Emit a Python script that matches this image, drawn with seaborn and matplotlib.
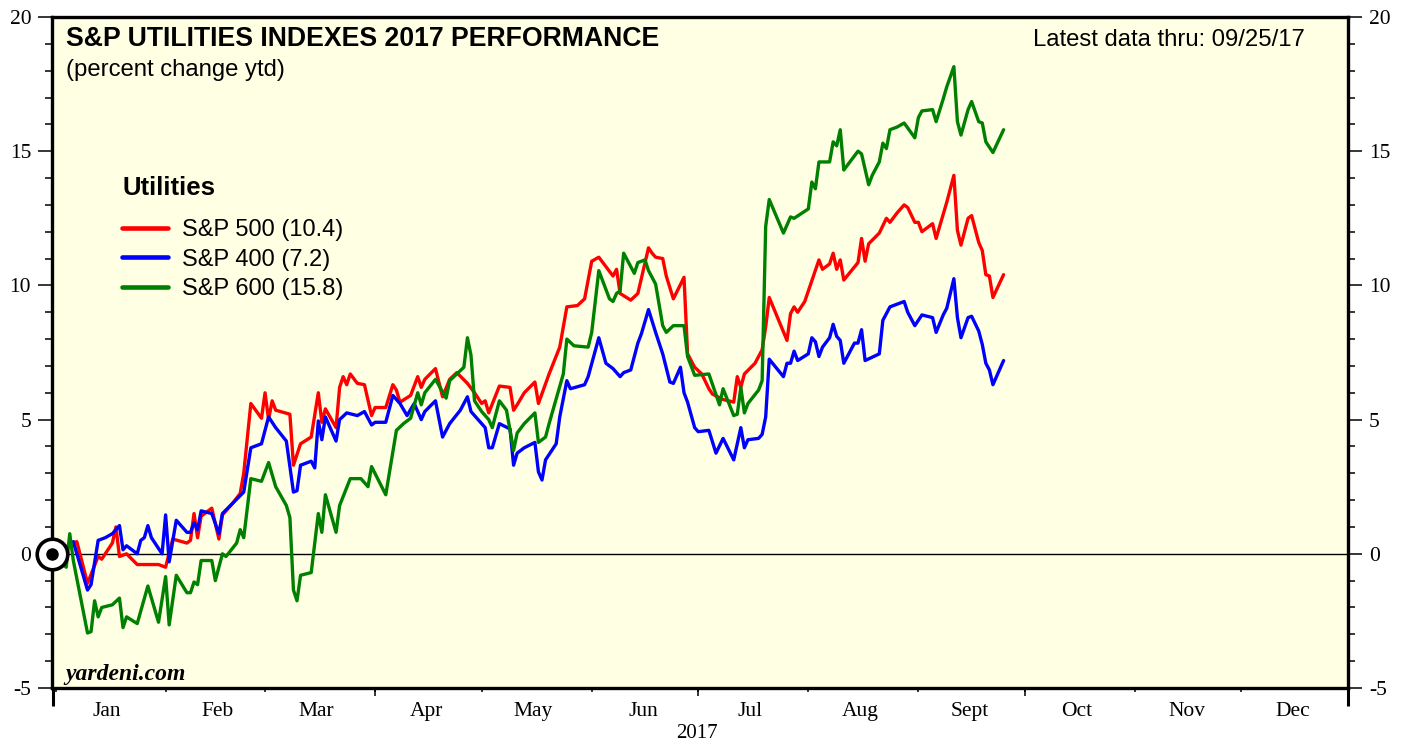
import matplotlib
matplotlib.use("Agg")
import matplotlib.pyplot as plt
import matplotlib.dates as mdates
import pandas as pd
import seaborn as sns

# ---------------- data ----------------
BASE_DATE = "2016-12-31"
YEAR = 2017

sp500_dates = ["01-03", "01-05", "01-07", "01-10", "01-13", "01-14", "01-17", "01-18", "01-19", "01-21",
               "01-24", "01-30", "02-01", "02-03", "02-07", "02-08", "02-09", "02-10", "02-11", "02-14",
               "02-16", "02-17", "02-20", "02-22", "02-23", "02-25", "02-28", "03-01", "03-02", "03-03",
               "03-04", "03-08", "03-09", "03-11", "03-14", "03-16", "03-17", "03-18", "03-21", "03-22",
               "03-23", "03-24", "03-25", "03-27", "03-29", "03-31", "04-01", "04-04", "04-06", "04-07",
               "04-08", "04-11", "04-13", "04-14", "04-15", "04-18", "04-20", "04-22", "04-24", "04-27",
               "04-29", "05-01", "05-02", "05-03", "05-06", "05-09", "05-10", "05-11", "05-13", "05-16",
               "05-17", "05-20", "05-23", "05-25", "05-28", "05-30", "06-01", "06-03", "06-07", "06-08",
               "06-09", "06-12", "06-14", "06-17", "06-18", "06-19", "06-21", "06-22", "06-24", "06-27",
               "06-28", "06-30", "07-02", "07-04", "07-05", "07-08", "07-11", "07-12", "07-13", "07-14",
               "07-17", "07-19", "07-20", "07-21", "07-26", "07-27", "07-28", "07-29", "07-31", "08-04",
               "08-05", "08-07", "08-08", "08-09", "08-10", "08-11", "08-15", "08-16", "08-17", "08-18",
               "08-21", "08-23", "08-24", "08-26", "08-28", "08-29", "08-31", "09-01", "09-02", "09-05",
               "09-06", "09-08", "09-09", "09-11", "09-12", "09-13", "09-15", "09-16", "09-18", "09-19",
               "09-20", "09-21", "09-22", "09-25"]
sp500_values = [-0.1, 0.4, 0.45, -1.1, -0.1, -0.2, 0.4, 1.0, -0.1, 0.0,
                -0.4, -0.4, -0.5, 0.55, 0.4, 0.5, 1.5, 0.6, 1.4, 1.7,
                0.55, 1.45, 1.9, 2.25, 3.0, 5.6, 5.05, 6.0, 5.0, 5.7,
                5.35, 5.2, 3.3, 4.1, 4.35, 6.0, 4.9, 5.4, 4.7, 6.2,
                6.6, 6.3, 6.7, 6.35, 6.3, 5.15, 5.45, 5.45, 6.3, 6.1,
                5.65, 5.9, 6.6, 6.2, 6.5, 6.9, 5.85, 6.5, 6.75, 6.35,
                6.0, 5.6, 5.7, 5.25, 6.25, 6.2, 5.35, 5.55, 6.0, 6.4,
                5.6, 6.7, 7.7, 9.2, 9.25, 9.5, 10.9, 11.05, 10.35, 10.6,
                9.7, 9.45, 9.7, 11.4, 11.2, 11.05, 11.0, 10.35, 9.5, 10.3,
                7.45, 6.95, 6.7, 6.15, 5.95, 5.75, 5.65, 6.6, 6.2, 6.7,
                7.1, 7.6, 8.45, 9.55, 7.95, 8.95, 9.2, 9.0, 9.4, 10.95,
                10.6, 10.8, 11.2, 10.6, 10.95, 10.2, 10.85, 11.75, 10.9, 11.55,
                11.95, 12.5, 12.35, 12.7, 13.0, 12.9, 12.35, 12.35, 12.0, 12.3,
                11.75, 12.65, 13.1, 14.1, 12.05, 11.5, 12.5, 12.6, 11.6, 11.3,
                10.4, 10.35, 9.55, 10.4]

sp400_dates = ["01-03", "01-05", "01-06", "01-10", "01-11", "01-13", "01-15", "01-17", "01-19", "01-20",
               "01-21", "01-24", "01-25", "01-26", "01-27", "01-28", "01-31", "02-01", "02-02", "02-04",
               "02-07", "02-08", "02-09", "02-10", "02-11", "02-14", "02-16", "02-17", "02-20", "02-23",
               "02-25", "02-28", "03-02", "03-04", "03-07", "03-09", "03-10", "03-11", "03-14", "03-15",
               "03-16", "03-17", "03-18", "03-21", "03-22", "03-24", "03-27", "03-29", "03-31", "04-01",
               "04-04", "04-06", "04-08", "04-10", "04-12", "04-14", "04-15", "04-18", "04-20", "04-22",
               "04-25", "04-27", "04-28", "05-02", "05-03", "05-04", "05-06", "05-09", "05-10", "05-11",
               "05-13", "05-16", "05-17", "05-18", "05-19", "05-22", "05-23", "05-25", "05-26", "05-30",
               "05-31", "06-03", "06-05", "06-07", "06-09", "06-10", "06-12", "06-14", "06-15", "06-17",
               "06-19", "06-21", "06-23", "06-24", "06-26", "06-27", "06-28", "06-30", "07-01", "07-04",
               "07-06", "07-08", "07-11", "07-13", "07-14", "07-15", "07-18", "07-19", "07-20", "07-21",
               "07-25", "07-26", "07-27", "07-28", "07-29", "08-01", "08-02", "08-03", "08-04", "08-05",
               "08-07", "08-08", "08-09", "08-10", "08-11", "08-14", "08-15", "08-16", "08-17", "08-21",
               "08-22", "08-24", "08-26", "08-28", "08-29", "08-31", "09-02", "09-05", "09-06", "09-08",
               "09-09", "09-11", "09-12", "09-13", "09-15", "09-16", "09-18", "09-19", "09-20", "09-21",
               "09-22", "09-25"]
sp400_values = [0.0, 0.4, 0.45, -1.35, -1.15, 0.5, 0.6, 0.75, 1.05, 0.15,
                0.3, 0.0, 0.5, 0.6, 1.05, 0.6, 0.0, 1.45, -0.3, 1.25,
                0.8, 0.8, 1.15, 0.9, 1.6, 1.5, 0.75, 1.5, 1.9, 2.3,
                3.95, 4.1, 5.1, 4.7, 4.2, 2.3, 2.35, 3.3, 3.45, 3.2,
                4.95, 4.25, 5.1, 4.2, 5.0, 5.25, 5.15, 5.3, 4.8, 4.9,
                4.9, 5.9, 5.6, 5.15, 5.6, 5.0, 5.3, 5.7, 4.35, 4.85,
                5.35, 5.85, 5.3, 4.7, 3.95, 3.95, 4.85, 4.65, 3.3, 3.75,
                3.95, 4.15, 3.05, 2.75, 3.5, 4.1, 5.1, 6.45, 6.15, 6.3,
                6.6, 8.05, 7.1, 6.9, 6.6, 6.75, 6.85, 7.85, 8.2, 9.1,
                8.25, 7.45, 6.4, 6.35, 6.95, 6.0, 5.65, 4.7, 4.55, 4.6,
                3.75, 4.3, 3.5, 4.7, 3.95, 4.25, 4.3, 4.45, 5.1, 7.25,
                6.6, 7.1, 7.1, 7.55, 7.2, 7.45, 8.05, 7.9, 7.35, 7.7,
                8.05, 8.55, 8.1, 7.95, 7.1, 7.85, 7.85, 8.35, 7.2, 7.45,
                8.7, 9.2, 9.3, 9.4, 9.0, 8.5, 8.9, 8.8, 8.25, 8.9,
                9.15, 10.25, 8.8, 8.05, 8.8, 8.85, 8.3, 7.8, 7.1, 6.85,
                6.3, 7.2]

sp600_dates = ["01-04", "01-05", "01-06", "01-10", "01-11", "01-12", "01-13", "01-14", "01-17", "01-19",
               "01-20", "01-21", "01-24", "01-27", "01-30", "02-01", "02-02", "02-04", "02-07", "02-08",
               "02-09", "02-10", "02-11", "02-14", "02-15", "02-16", "02-17", "02-18", "02-21", "02-22",
               "02-23", "02-25", "02-28", "03-02", "03-04", "03-07", "03-08", "03-09", "03-10", "03-11",
               "03-14", "03-16", "03-17", "03-18", "03-21", "03-22", "03-25", "03-28", "03-30", "03-31",
               "04-04", "04-07", "04-09", "04-11", "04-13", "04-14", "04-15", "04-18", "04-21", "04-22",
               "04-24", "04-26", "04-27", "04-28", "04-29", "05-01", "05-03", "05-04", "05-06", "05-08",
               "05-10", "05-11", "05-13", "05-16", "05-17", "05-19", "05-20", "05-24", "05-25", "05-27",
               "05-31", "06-01", "06-03", "06-06", "06-07", "06-08", "06-09", "06-10", "06-13", "06-14",
               "06-16", "06-17", "06-19", "06-21", "06-22", "06-24", "06-27", "06-28", "06-30", "07-04",
               "07-07", "07-08", "07-11", "07-12", "07-13", "07-14", "07-15", "07-18", "07-19", "07-20",
               "07-21", "07-25", "07-27", "07-28", "08-01", "08-02", "08-03", "08-04", "08-07", "08-08",
               "08-09", "08-10", "08-11", "08-15", "08-16", "08-18", "08-19", "08-21", "08-22", "08-23",
               "08-24", "08-26", "08-28", "08-31", "09-01", "09-02", "09-05", "09-06", "09-08", "09-09",
               "09-11", "09-12", "09-13", "09-15", "09-16", "09-18", "09-19", "09-20", "09-22", "09-25"]
sp600_values = [-0.5, 0.75, -0.25, -2.95, -2.9, -1.75, -2.35, -2.0, -1.9, -1.65,
                -2.75, -2.35, -2.6, -1.2, -2.55, -0.85, -2.65, -0.8, -1.45, -1.45,
                -1.05, -1.15, -0.25, -0.25, -1.0, -0.5, 0.0, -0.1, 0.4, 0.9,
                0.6, 2.8, 2.7, 3.4, 2.5, 1.8, 1.35, -1.35, -1.75, -0.8,
                -0.7, 1.5, 0.8, 2.2, 0.8, 1.8, 2.8, 2.8, 2.5, 3.25,
                2.2, 4.6, 4.85, 5.05, 6.0, 5.55, 6.0, 6.5, 5.8, 6.45,
                6.7, 6.95, 8.05, 7.4, 5.7, 5.3, 5.0, 4.7, 5.7, 5.35,
                3.85, 4.5, 4.85, 5.25, 4.15, 4.35, 4.85, 6.7, 8.0, 7.75,
                7.7, 8.25, 10.55, 9.5, 9.4, 9.7, 9.8, 11.2, 10.45, 10.85,
                10.95, 10.55, 10.05, 8.5, 8.25, 8.5, 8.5, 7.35, 6.65, 6.7,
                5.55, 6.15, 5.15, 5.2, 6.2, 5.25, 5.6, 6.1, 6.45, 12.2,
                13.2, 11.95, 12.55, 12.5, 12.85, 13.85, 13.6, 14.6, 14.6, 15.35,
                15.2, 15.8, 14.3, 15.0, 14.9, 13.75, 14.1, 14.6, 15.3, 15.1,
                15.8, 15.9, 16.05, 15.5, 16.25, 16.5, 16.55, 16.1, 16.95, 17.4,
                18.15, 16.1, 15.6, 16.55, 16.85, 16.1, 16.05, 15.35, 14.95, 15.8]

series_names = ["S&P 500", "S&P 400", "S&P 600"]
latest_values = [10.4, 7.2, 15.8]
series_colors = ["#FF0000", "#0000FF", "#008000"]
month_labels = ["Jan", "Feb", "Mar", "Apr", "May", "Jun", "Jul", "Aug", "Sept", "Oct", "Nov", "Dec"]
y_ticks = [-5, 0, 5, 10, 15, 20]

# ---------------- build frame ----------------
frames = []
for name, dates, vals in zip(series_names,
                             [sp500_dates, sp400_dates, sp600_dates],
                             [sp500_values, sp400_values, sp600_values]):
    d = [pd.Timestamp(BASE_DATE)] + [pd.Timestamp(f"{YEAR}-{s}") for s in dates]
    v = [0.0] + list(vals)
    frames.append(pd.DataFrame({"date": d, "value": v, "series": name}))
df = pd.concat(frames, ignore_index=True)

# ---------------- style ----------------
sns.set_theme(style="ticks")
plt.rcParams["font.family"] = ["Liberation Sans", "DejaVu Sans"]
plt.rcParams["axes.unicode_minus"] = False
plt.rcParams["text.color"] = "black"
SERIF = ["Liberation Serif", "DejaVu Serif"]

W, H = 1407, 742
fig = plt.figure(figsize=(W / 100, H / 100), dpi=100)
fig.patch.set_facecolor("white")
L, R, T, B = 52, 1348, 17, 688
ax = fig.add_axes([L / W, 1 - B / H, (R - L) / W, (B - T) / H])
ax.set_facecolor("#FFFFE4")

sns.lineplot(data=df, x="date", y="value", hue="series", hue_order=series_names,
             palette=dict(zip(series_names, series_colors)), estimator=None,
             linewidth=2.4, ax=ax, zorder=3)

ax.axhline(0, color="black", linewidth=1.0, zorder=2)

# origin marker
ax.plot([pd.Timestamp(BASE_DATE)], [0], marker="o", markersize=22, markerfacecolor="white",
        markeredgecolor="black", markeredgewidth=2.6, clip_on=False, zorder=10)
ax.plot([pd.Timestamp(BASE_DATE)], [0], marker="o", markersize=8, markerfacecolor="black",
        markeredgecolor="black", clip_on=False, zorder=11)

# axes limits
x0 = mdates.date2num(pd.Timestamp(f"{YEAR - 1}-12-31"))
x1 = mdates.date2num(pd.Timestamp(f"{YEAR}-12-31"))
ax.set_xlim(x0, x1)
ax.set_ylim(-5, 20)
ax.set_xlabel("")
ax.set_ylabel("")

for s in ax.spines.values():
    s.set_visible(True)
    s.set_linewidth(2.4)
    s.set_color("black")

# y ticks both sides
ax.set_yticks(y_ticks)
ax.set_yticks(range(-5, 21), minor=True)
ax.yaxis.set_ticklabels([str(t) for t in y_ticks])
ax.tick_params(axis="y", which="major", direction="out", length=10, width=1.1, color="black",
               left=True, right=True, labelleft=True, labelright=True, pad=5,
               labelsize=15.5, labelcolor="black")
ax.tick_params(axis="y", which="minor", direction="out", length=5, width=1.1, color="black",
               left=True, right=True)
for lab in ax.get_yticklabels():
    lab.set_fontfamily(SERIF)

# x ticks: month boundaries (major, short) + mid-month labels (minor)
month_starts = [mdates.date2num(pd.Timestamp(f"{YEAR}-{m:02d}-01")) for m in range(1, 13)]
month_mids = [mdates.date2num(pd.Timestamp(f"{YEAR}-{m:02d}-15")) + 0.5 for m in range(1, 13)]
ax.set_xticks(month_starts)
ax.set_xticklabels([""] * 12)
ax.set_xticks(month_mids, minor=True)
ax.set_xticklabels(month_labels, minor=True)
ax.tick_params(axis="x", which="major", direction="out", length=3, width=1.1, color="black",
               bottom=True, top=False)
ax.tick_params(axis="x", which="minor", length=0, pad=10, labelsize=15.5, labelcolor="black")
for lab in ax.get_xticklabels(minor=True):
    lab.set_fontfamily(SERIF)

# quarter ticks and year ticks (longer)
sec_q = ax.secondary_xaxis("bottom")
sec_q.set_xticks([month_starts[3], month_starts[6], month_starts[9]])
sec_q.set_xticklabels([""] * 3)
sec_q.tick_params(axis="x", direction="out", length=6, width=1.1, color="black")
sec_q.spines["bottom"].set_visible(False)
sec_y = ax.secondary_xaxis("bottom")
sec_y.set_xticks([mdates.date2num(pd.Timestamp(f"{YEAR}-01-01")) - 0.6, x1])
sec_y.set_xticklabels(["", ""])
sec_y.tick_params(axis="x", direction="out", length=13, width=2.2, color="black")
sec_y.spines["bottom"].set_visible(False)

# texts
ax.text(0.0108, 0.9568, "S&P UTILITIES INDEXES 2017 PERFORMANCE", transform=ax.transAxes,
        fontsize=19.2, fontweight="bold", ha="left", va="baseline", color="black")
ax.text(0.0108, 0.912, "(percent change ytd)", transform=ax.transAxes,
        fontsize=17.2, ha="left", va="baseline", color="black")
ax.text(0.9668, 0.9568, "Latest data thru: 09/25/17", transform=ax.transAxes,
        fontsize=17.2, ha="right", va="baseline", color="black")
ax.text(0.010, 0.012, "yardeni.com", transform=ax.transAxes, fontsize=17,
        fontweight="bold", fontstyle="italic", family=SERIF, ha="left", va="baseline",
        color="black")
fig.text(697 / W, 1 - 733 / H, str(YEAR), ha="center", va="center", fontsize=15,
         family=SERIF, color="black")

# legend
handles, _ = ax.get_legend_handles_labels()
labels = [f"{n} ({v})" for n, v in zip(series_names, latest_values)]
leg = ax.legend(handles[:3], labels, title="Utilities", loc="upper left",
                bbox_to_anchor=((122 - L) / (R - L), 1 - (176 - T) / (B - T)),
                frameon=False, fontsize=17, handlelength=1.95, handletextpad=0.6,
                labelspacing=0.31, borderaxespad=0, borderpad=0, labelcolor="black")
leg.get_title().set_fontsize(18.5)
leg.get_title().set_fontweight("bold")
leg.get_title().set_color("black")
leg._legend_box.align = "left"
leg._legend_box.sep = 14
for h in leg.legend_handles:
    h.set_linewidth(3.3)

fig.savefig("out.png", dpi=100, facecolor="white")
